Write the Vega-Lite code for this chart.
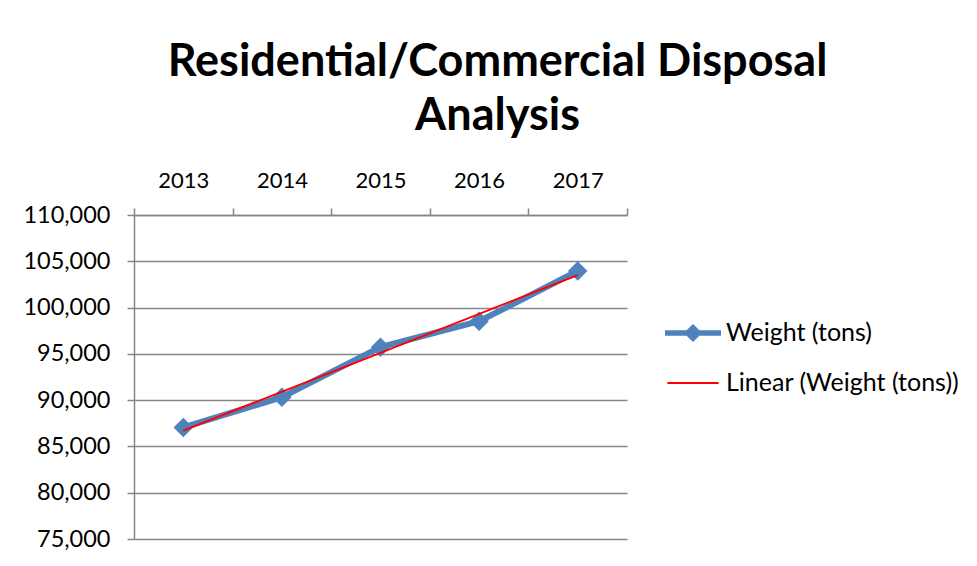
{
  "$schema": "https://vega.github.io/schema/vega-lite/v6.json",
  "width": 493,
  "height": 324,
  "autosize": "none",
  "padding": {"left": 134, "top": 215, "right": 350, "bottom": 27},
  "background": "white",
  "config": {"font": "Lato", "view": {"stroke": null}},
  "title": {
    "text": ["Residential/Commercial Disposal", "Analysis"],
    "font": "Lato",
    "fontSize": 45,
    "fontWeight": "bold",
    "color": "black",
    "anchor": "middle",
    "frame": "group",
    "dx": 117,
    "lineHeight": 54,
    "offset": 30
  },
  "data": {
    "values": [
      {"year": 2013, "weight": 87050},
      {"year": 2014, "weight": 90320},
      {"year": 2015, "weight": 95720},
      {"year": 2016, "weight": 98520},
      {"year": 2017, "weight": 103950}
    ]
  },
  "encoding": {
    "x": {
      "field": "year",
      "type": "ordinal",
      "bandPosition": 0.5,
      "scale": {"type": "band", "paddingInner": 0, "paddingOuter": 0},
      "axis": {
        "orient": "top",
        "title": null,
        "labelAngle": 0,
        "labelFont": "Lato",
        "labelFontSize": 22,
        "labelColor": "black",
        "labelPadding": 16,
        "tickBand": "extent",
        "tickSize": 7,
        "tickColor": "#868686",
        "tickWidth": 1.5,
        "domainColor": "#868686",
        "domainWidth": 1.5,
        "grid": false
      }
    },
    "y": {
      "field": "weight",
      "type": "quantitative",
      "scale": {"domain": [75000, 110000], "nice": false, "zero": false},
      "axis": {
        "title": null,
        "values": [75000, 80000, 85000, 90000, 95000, 100000, 105000, 110000],
        "format": ",d",
        "labelFont": "Lato",
        "labelFontSize": 23.5,
        "labelColor": "black",
        "labelPadding": 17,
        "tickSize": 7,
        "tickColor": "#868686",
        "tickWidth": 1.5,
        "domainColor": "#868686",
        "domainWidth": 1.5,
        "grid": true,
        "gridColor": "#868686",
        "gridWidth": 1.5
      }
    }
  },
  "layer": [
    {
      "mark": {"type": "line", "strokeWidth": 6},
      "encoding": {
        "color": {
          "datum": "Weight (tons)",
          "scale": {"domain": ["Weight (tons)", "Linear (Weight (tons))"], "range": ["#4F81BD", "#FF0000"]},
          "legend": {
            "title": null,
            "orient": "none",
            "legendX": 539,
            "legendY": 98,
            "symbolSize": 1600,
            "labelFont": "Lato",
            "labelFontSize": 25,
            "labelColor": "black",
            "labelLimit": 400,
            "labelOffset": 13,
            "rowPadding": 17,
            "encode": {
              "symbols": {
                "update": {
                  "shape": {"signal": "datum.value === 'Weight (tons)' ? 'M-1.4,-0.14L-0.32,-0.14L0,-0.45L0.32,-0.14L1.4,-0.14L1.4,0.14L0.32,0.14L0,0.45L-0.32,0.14L-1.4,0.14Z' : 'M-1.28,-0.05L1.28,-0.05L1.28,0.05L-1.28,0.05Z'"},
                  "fill": {"signal": "datum.value === 'Weight (tons)' ? '#4F81BD' : '#FF0000'"},
                  "fillOpacity": {"value": 1},
                  "opacity": {"value": 1},
                  "stroke": {"value": "transparent"},
                  "strokeWidth": {"value": 0}
                }
              }
            }
          }
        }
      }
    },
    {
      "mark": {"type": "point", "shape": "diamond", "filled": true, "size": 380, "opacity": 1},
      "encoding": {"color": {"datum": "Weight (tons)"}}
    },
    {
      "transform": [{"regression": "weight", "on": "year"}],
      "mark": {"type": "line", "strokeWidth": 2},
      "encoding": {"color": {"datum": "Linear (Weight (tons))"}}
    }
  ]
}
